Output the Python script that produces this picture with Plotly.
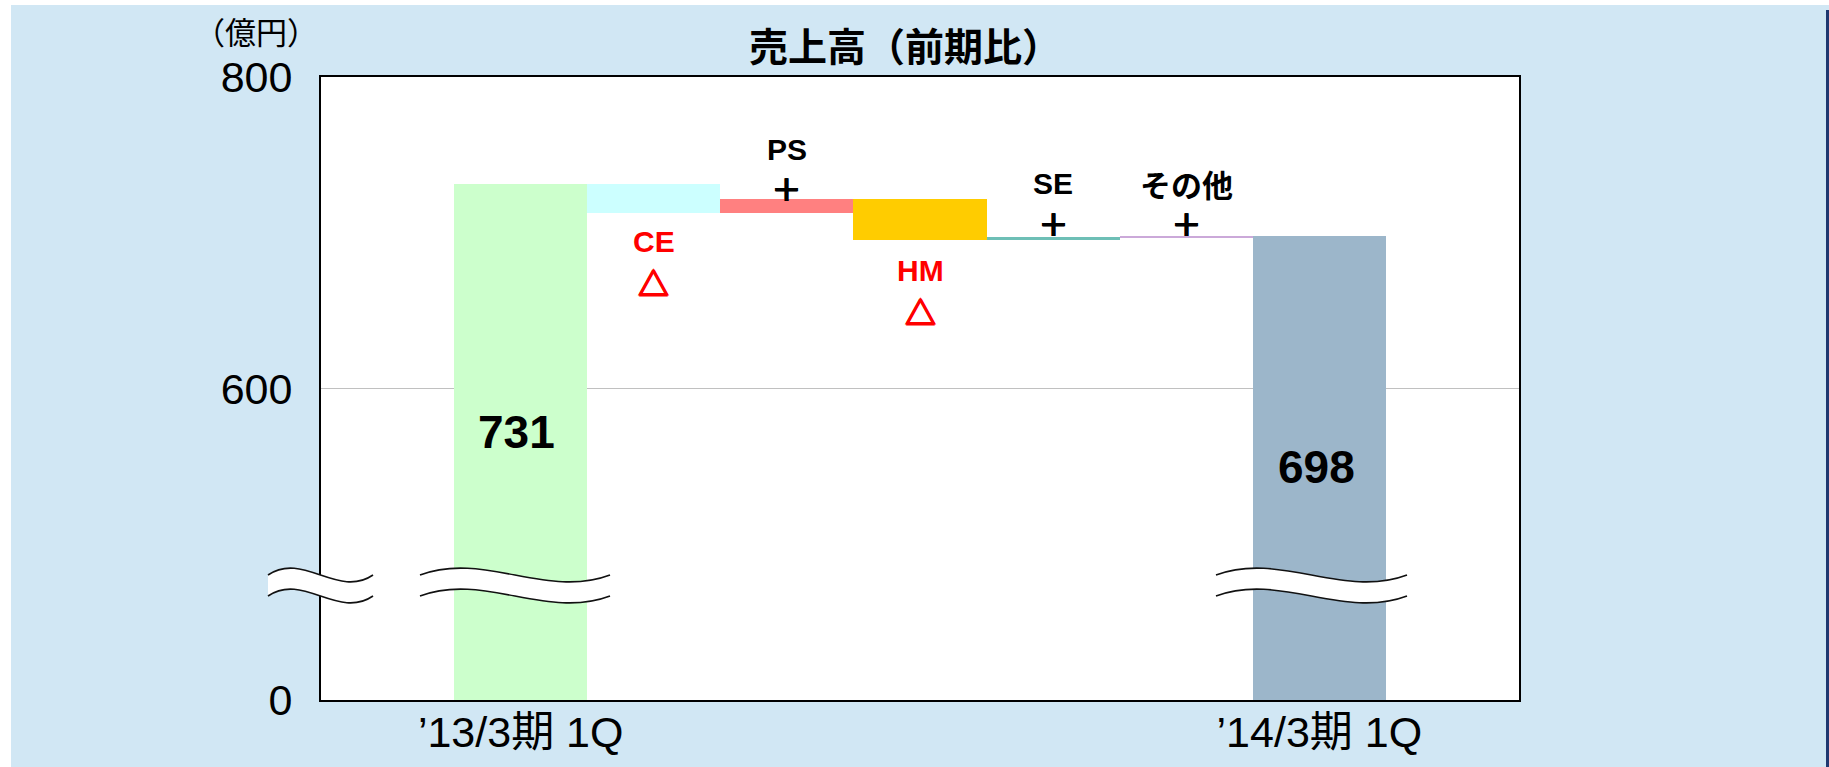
import plotly.graph_objects as go

# ---------------- data ----------------
categories = ["’13/3期 1Q", "CE", "PS", "HM", "SE", "その他", "’14/3期 1Q"]
start_value = 731
changes = [-18.4, 8.8, -26.3, 2.0, 0.9]
end_value = 698
bar_colors = ["#CCFFCC", "#CCFFFF", "#FF8080", "#FFCC00", "#6EBFB6", "#CBA9D9", "#9CB6CA"]
change_marks = ["△", "＋", "△", "＋", "＋"]
ytick_values = [400, 600, 800]
ytick_labels = ["0", "600", "800"]

# ---------------- geometry helpers (pixels -> paper) ----------------
W, H = 1829, 767
L, R, T, B = 321, 1519, 77, 700
PW, PH = R - L, B - T


def px(x):
    return (x - L) / PW


def py(y):
    return (B - y) / PH


# ---------------- bars ----------------
xs = list(range(1, len(categories) + 1))
bases, heights = [0], [start_value]
level = start_value
for d in changes:
    bases.append(level)
    heights.append(d)
    level += d
bases.append(0)
heights.append(end_value)

fig = go.Figure()
fig.add_trace(go.Bar(
    x=xs, y=heights, base=bases, width=1,
    marker=dict(color=bar_colors, line=dict(width=0)),
    showlegend=False, hoverinfo="skip",
))

LAT = "Arial, 'Liberation Sans', 'Noto Sans CJK JP', sans-serif"
CJK = "'Noto Sans CJK JP', sans-serif"

ann = []
# change labels
label_y = {"CE": 694.5, "PS": 753.2, "HM": 675.9, "SE": 731.4, "その他": 731.7}
mark_y = {"CE": 668.8, "PS": 729.1, "HM": 650.2, "SE": 706.7, "その他": 706.7}
for i, (name, d, m) in enumerate(zip(categories[1:-1], changes, change_marks)):
    col = "#FF0000" if d < 0 else "#000000"
    fam = CJK if name == "その他" else LAT
    size = 31 if name == "その他" else 30
    ann.append(dict(x=xs[i + 1], y=label_y[name], xref="x", yref="y", text=f"<b>{name}</b>",
                    xanchor="center", yanchor="middle",
                    showarrow=False, font=dict(family=fam, size=size, color=col)))
    if d < 0:
        mfont = dict(family=CJK, size=31, color=col, weight="bold",
                     shadow=f"1px 0 0 {col}, -1px 0 0 {col}, 0 1px 0 {col}, 0 -1px 0 {col}")
    else:
        mfont = dict(family=CJK, size=31, color=col, weight="bold",
                     shadow=f"0.6px 0 0 {col}, -0.6px 0 0 {col}")
    ann.append(dict(x=xs[i + 1], y=mark_y[name], xref="x", yref="y", text=m,
                    xanchor="center", yanchor="middle", showarrow=False, font=mfont))
# totals
ann.append(dict(x=xs[0] - 0.03, y=572, xref="x", yref="y", text=f"<b>{start_value}</b>",
                xanchor="center", yanchor="middle",
                showarrow=False, font=dict(family=LAT, size=46, color="black")))
ann.append(dict(x=xs[-1] - 0.02, y=549.5, xref="x", yref="y", text=f"<b>{end_value}</b>",
                xanchor="center", yanchor="middle",
                showarrow=False, font=dict(family=LAT, size=46, color="black")))
# title & unit
ann.append(dict(x=px(905), y=py(44), xref="paper", yref="paper", text="<b>売上高（前期比）</b>",
                xanchor="center", yanchor="middle",
                showarrow=False, font=dict(family=CJK, size=39, color="black")))
ann.append(dict(x=px(256), y=py(30), xref="paper", yref="paper", text="（億円）",
                xanchor="center", yanchor="middle",
                showarrow=False, font=dict(family=CJK, size=31, color="black")))

shapes = []
# outer white strips and right navy edge
shapes.append(dict(type="rect", xref="paper", yref="paper", x0=px(-5), x1=px(11), y0=py(W), y1=py(-5),
                   fillcolor="white", line=dict(width=0), layer="above"))
shapes.append(dict(type="rect", xref="paper", yref="paper", x0=px(-5), x1=px(W + 5), y0=py(5), y1=py(-5),
                   fillcolor="white", line=dict(width=0), layer="above"))
shapes.append(dict(type="rect", xref="paper", yref="paper", x0=px(1826), x1=px(W + 5), y0=py(H + 5), y1=py(10),
                   fillcolor="#1F3870", line=dict(width=0), layer="above"))


def wave_pts(x0, x1, y0, amp=24):
    w = x1 - x0
    return [(x0, y0), (x0 + w / 3, y0 - amp), (x0 + 2 * w / 3, y0 + amp), (x1, y0)]


def fmt(p):
    return f"{px(p[0]):.5f},{py(p[1]):.5f}"


def add_break(x0, x1, ytop=575, gap=21):
    top = wave_pts(x0, x1, ytop)
    bot = wave_pts(x0, x1, ytop + gap)
    fill = ("M " + fmt(top[0]) + " C " + " ".join(fmt(p) for p in top[1:]) +
            " L " + fmt(bot[3]) + " C " + " ".join(fmt(p) for p in [bot[2], bot[1], bot[0]]) + " Z")
    shapes.append(dict(type="path", xref="paper", yref="paper", path=fill,
                       fillcolor="white", line=dict(width=0), layer="above"))
    for c in (top, bot):
        path = "M " + fmt(c[0]) + " C " + " ".join(fmt(p) for p in c[1:])
        shapes.append(dict(type="path", xref="paper", yref="paper", path=path,
                           line=dict(color="#111111", width=1.6), layer="above"))


add_break(268, 373)
add_break(420, 610)
add_break(1216, 1407)

fig.update_layout(
    width=W, height=H, autosize=False,
    margin=dict(l=L, r=W - R, t=T, b=H - B, pad=0, autoexpand=False),
    paper_bgcolor="#D1E7F4", plot_bgcolor="white",
    bargap=0, showlegend=False,
    annotations=ann, shapes=shapes,
    xaxis=dict(range=[0.5 - 1, len(categories) + 1.5], tickvals=[xs[0], xs[-1]],
               ticktext=[categories[0], categories[-1]], automargin=False,
               showgrid=False, zeroline=False, showline=True, mirror=True,
               linecolor="black", linewidth=2,
               ticks="", ticklabelstandoff=-7,
               tickfont=dict(family=LAT, size=43, color="black")),
    yaxis=dict(range=[400, 800], tickvals=ytick_values, ticktext=ytick_labels, automargin=False,
               showgrid=True, gridcolor="#C0C0C0", gridwidth=1, zeroline=False,
               showline=True, mirror=True, linecolor="black", linewidth=2,
               ticks="outside", ticklen=18, tickcolor="rgba(0,0,0,0)",
               tickfont=dict(family=LAT, size=43, color="black")),
)

fig.write_html("out.html")
